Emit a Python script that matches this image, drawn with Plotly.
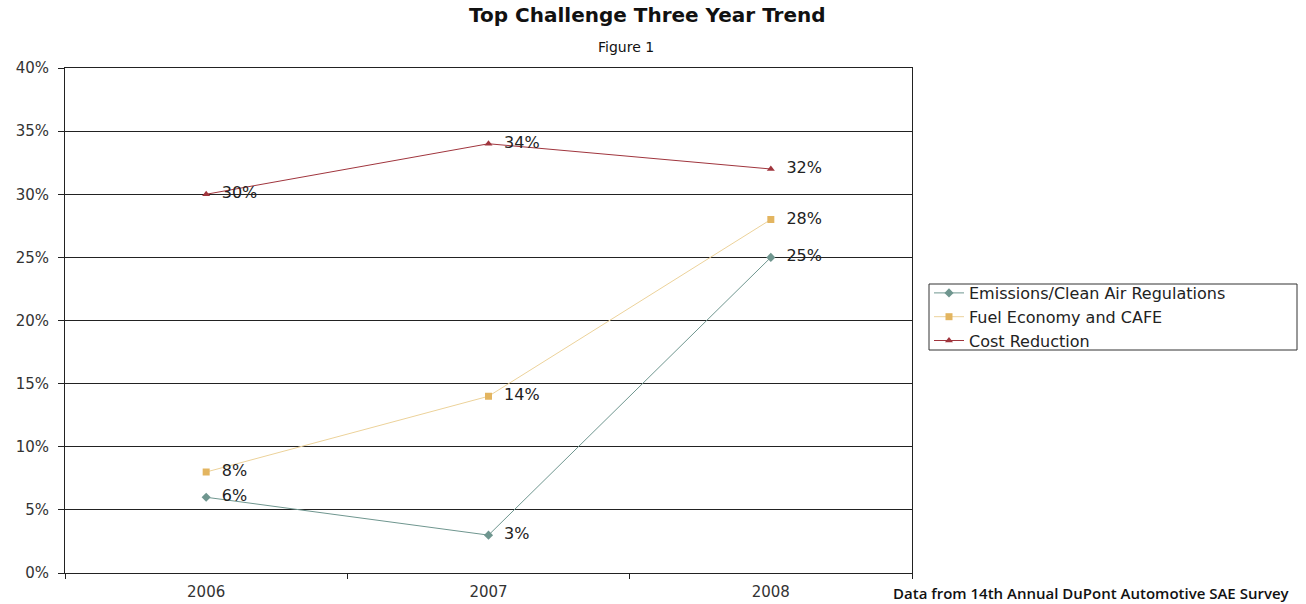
import plotly.graph_objects as go

years = ["2006", "2007", "2008"]
emissions = [6, 3, 25]
fuel = [8, 14, 28]
cost = [30, 34, 32]
series_names = ["Emissions/Clean Air Regulations", "Fuel Economy and CAFE", "Cost Reduction"]
y_ticks = [0, 5, 10, 15, 20, 25, 30, 35, 40]

line_colors = ["#6f968f", "#ecd29a", "#a0353d"]
marker_colors = ["#6f968f", "#e3b560", "#a0353d"]
symbols = ["diamond", "square", "triangle-up"]

W, H = 1306, 604
L, R, T, B = 65, 394, 68, 31
pw, ph = W - L - R, H - T - B

def px(x):
    return (x - L) / pw

def py(y):
    return (H - B - y) / ph

FONT = "DejaVu Sans, Verdana, Arial"

fig = go.Figure()
for name, vals, lc, mc, s in zip(series_names, [emissions, fuel, cost], line_colors, marker_colors, symbols):
    fig.add_trace(go.Scatter(
        x=years, y=vals, name=name, mode="lines+markers+text",
        line=dict(color=lc, width=1),
        marker=dict(symbol=s, size=7, color=mc),
        text=[f"  {v}%" for v in vals], textposition="middle right",
        textfont=dict(family=FONT, size=16, color="#222"),
        cliponaxis=False,
    ))

fig.update_layout(
    width=W, height=H,
    margin=dict(l=L, r=R, t=T, b=B, autoexpand=False),
    paper_bgcolor="white", plot_bgcolor="white",
    font=dict(family=FONT, color="#333"),
    showlegend=True,
    legend=dict(x=px(929), xanchor="left", y=py(317), yanchor="middle",
                borderwidth=0, bgcolor="rgba(0,0,0,0)",
                font=dict(size=16, color="#222", family=FONT),
                tracegroupgap=0),
    shapes=[dict(type="rect", xref="paper", yref="paper",
                 x0=px(929), x1=px(1297), y0=py(350), y1=py(284),
                 line=dict(color="#333", width=1), fillcolor="rgba(0,0,0,0)", layer="below")],
    xaxis=dict(type="category", range=[-0.5, 2.5], showgrid=False, automargin=False,
               showline=True, linecolor="#222", linewidth=1, mirror=True,
               ticks="outside", tickson="boundaries", ticklen=5, tickcolor="#222",
               ticklabelstandoff=5,
               tickfont=dict(size=15, color="#333", family=FONT)),
    yaxis=dict(range=[0, 40], tickvals=y_ticks, ticktext=[f"{v}%" for v in y_ticks],
               showgrid=True, gridcolor="#222", gridwidth=1, automargin=False,
               showline=True, linecolor="#222", linewidth=1, mirror=True,
               ticks="outside", ticklen=6, tickcolor="#222", zeroline=False,
               ticklabelstandoff=6,
               tickfont=dict(size=15, color="#333", family=FONT)),
    annotations=[
        dict(text="<b>Top Challenge Three Year Trend</b>", x=px(647), y=py(15),
             xref="paper", yref="paper", xanchor="center", yanchor="middle", showarrow=False,
             font=dict(size=20, color="#111", family=FONT)),
        dict(text="Figure 1", x=px(626), y=py(47),
             xref="paper", yref="paper", xanchor="center", yanchor="middle", showarrow=False,
             font=dict(size=14, color="#111", family=FONT)),
        dict(text="Data from 14th Annual DuPont Automotive SAE Survey", x=px(1292), y=py(593),
             xref="paper", yref="paper", yanchor="middle", xanchor="right", showarrow=False,
             font=dict(size=15, color="#111", family="Open Sans", weight=600)),
    ],
)

fig.write_html("out.html")
